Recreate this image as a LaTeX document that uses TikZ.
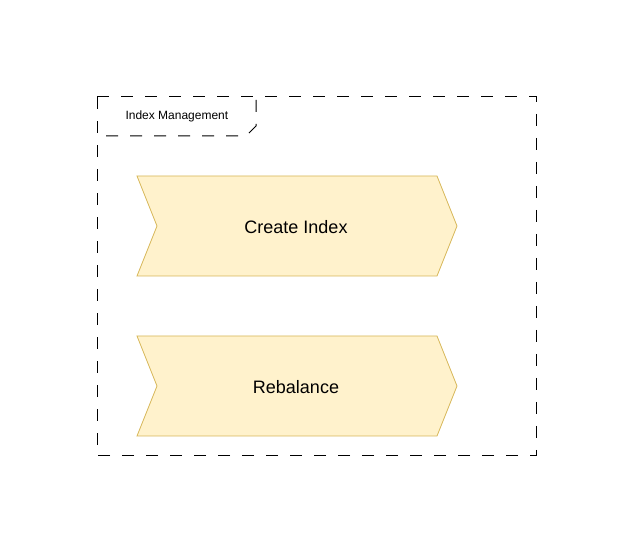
\documentclass[tikz,border=0pt]{standalone}
\usepackage{fontspec}
\setmainfont{Liberation Sans}
\definecolor{stepfill}{HTML}{FFF2CC}
\definecolor{stepline}{HTML}{D6B656}
\begin{document}
\begin{tikzpicture}[x=1pt,y=-1pt,
    frame/.style={draw=black,line width=1pt,dash pattern=on 12pt off 12pt},
    stepshape/.style={draw=stepline,fill=stepfill,line width=0.8pt,line join=miter},
    steptext/.style={font=\fontsize{18}{20}\selectfont}]
            \useasboundingbox (0,0) rectangle (633,553);
            \draw[frame] (97,97)--(536,97)--(536,456)--(97,456)--cycle;
            \draw[frame,dash phase=-3pt] (256,97)--(256,126)--(246,136)--(97,136);
            \node[anchor=west,font=\fontsize{12}{14}\selectfont] (tab) at (122,116) {Index Management};
            \draw[stepshape] (137,176)--(437,176)--(457,226)--(437,276)--(137,276)--(157,226)--cycle;
            \node[steptext] (create) at (296,227) {Create Index};
            \draw[stepshape] (137,336)--(437,336)--(457,386)--(437,436)--(137,436)--(157,386)--cycle;
            \node[steptext] (rebalance) at (296,387) {Rebalance};
            \end{tikzpicture}
\end{document}
